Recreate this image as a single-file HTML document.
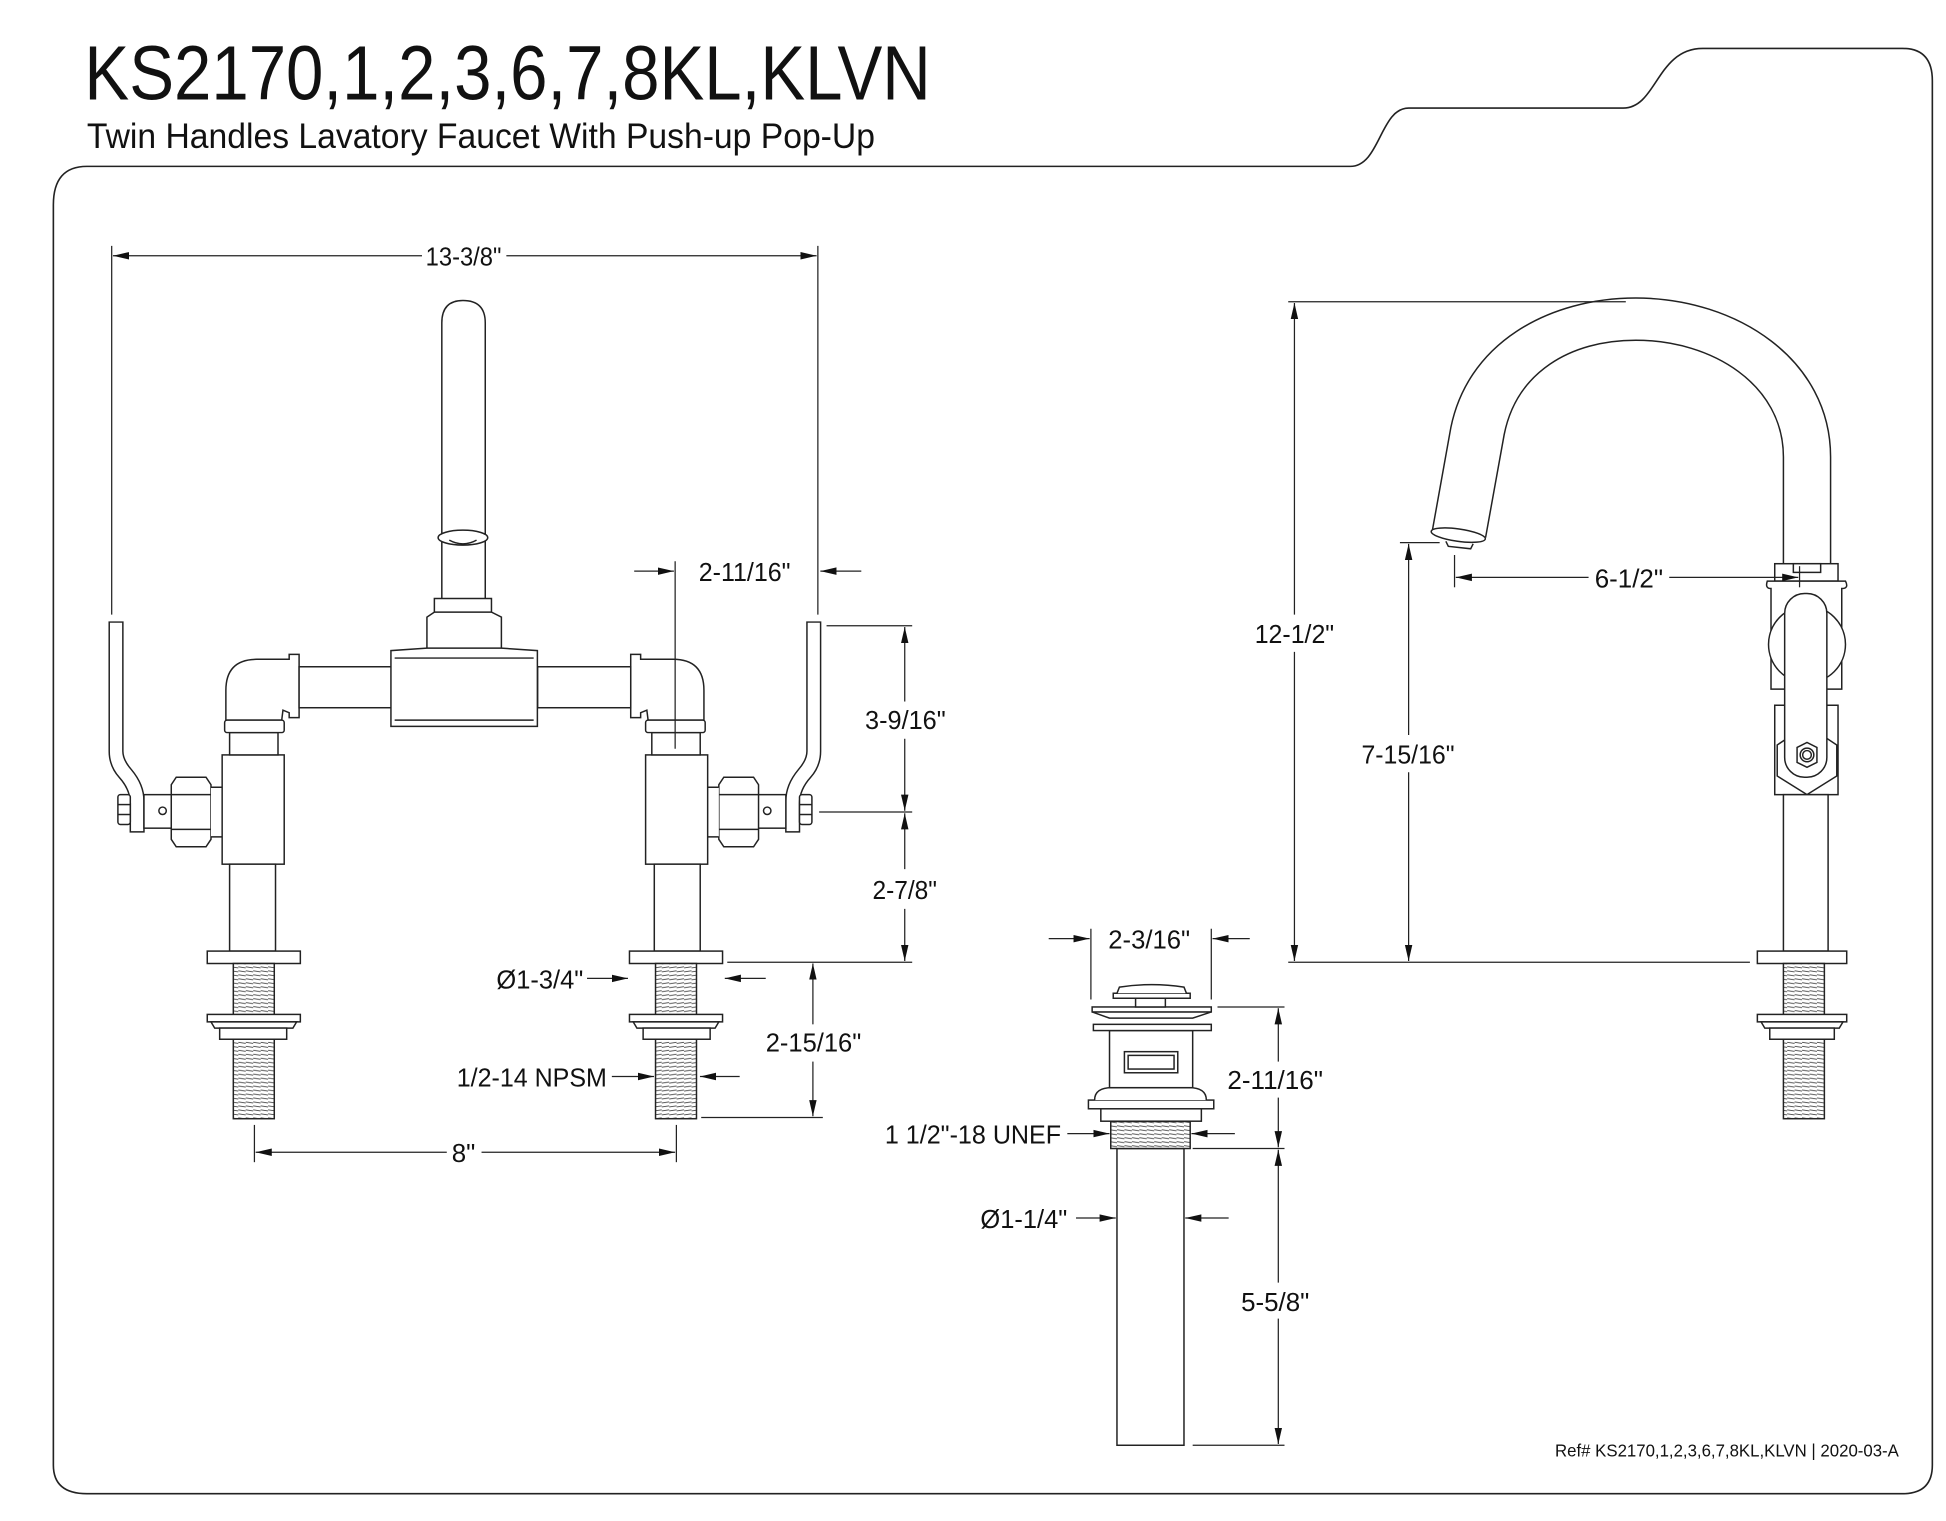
<!DOCTYPE html>
<html><head><meta charset="utf-8"><style>
html,body{margin:0;padding:0;background:#fff;width:1946px;height:1521px;overflow:hidden}
svg{display:block}
text{font-family:"Liberation Sans",sans-serif;fill:#111}
.d{font-size:21px}
</style></head><body>
<svg width="1946" height="1521" viewBox="0 0 1568 1225" preserveAspectRatio="none" xmlns="http://www.w3.org/2000/svg">
<defs>
<marker id="a" markerUnits="userSpaceOnUse" markerWidth="14" markerHeight="8" refX="13" refY="4" orient="auto"><path d="M0,1 L13,4 L0,7 Z" fill="#111"/></marker>
<pattern id="th" width="6" height="3.2" patternUnits="userSpaceOnUse"><rect width="6" height="3.2" fill="#fff"/><line x1="0" y1="1" x2="6" y2="2" stroke="#444" stroke-width="0.7"/></pattern>
</defs>
<g fill="none" stroke="#222" stroke-width="1.3">
<path d="M43,1180 L43,165 Q43,134 70,134 L1088,134 C1112,134 1112,87 1135,87 L1308,87 C1335,87 1335,39 1372,39 L1533,39 Q1557,39 1557,65 L1557,1180 Q1557,1203 1533,1203 L70,1203 Q43,1203 43,1180"/>
</g>
<text x="68" y="80" font-size="62" textLength="682" lengthAdjust="spacingAndGlyphs">KS2170,1,2,3,6,7,8KL,KLVN</text>
<text x="70" y="119" font-size="28" textLength="635" lengthAdjust="spacingAndGlyphs">Twin Handles Lavatory Faucet With Push-up Pop-Up</text>

<g id="half" fill="#fff" stroke="#222" stroke-width="1.2">
<path d="M88,501 L99,501 L99,605 Q99,612 106,620 Q116,632 116,645 L116,670 L105,670 L105,647 Q105,636 96,626 Q88,617 88,605 Z"/>
<rect x="95" y="640" width="10" height="24" rx="2"/>
<line x1="95" y1="648" x2="105" y2="648"/><line x1="95" y1="656" x2="105" y2="656"/>
<rect x="116" y="640" width="23" height="27"/>
<circle cx="131" cy="653" r="3"/>
<path d="M142,626 L166,626 L170,632 L170,676 L166,682 L142,682 L138,676 L138,632 Z"/>
<line x1="138" y1="640" x2="170" y2="640"/><line x1="138" y1="668" x2="170" y2="668"/>
<path d="M170,634 L180,634 Q195,645 195,654 Q195,663 180,674 L170,674"/>
<rect x="179" y="608" width="50" height="88"/>
<rect x="185" y="696" width="37" height="70"/>
<rect x="167" y="766" width="75" height="10"/>
<rect x="188" y="776" width="33" height="125" fill="url(#th)"/>
<rect x="167" y="817" width="75" height="6"/>
<path d="M170,823 L239,823 L236,828 L173,828 Z"/>
<rect x="177" y="828" width="54" height="9"/>
<rect x="185" y="590" width="39" height="18"/>
<path d="M182,580 L182,556 Q182,531 207,531 L233,531 L233,527 L241,527 L241,578 L233,578 L233,574 L228,572 L227,580 Z"/>
<rect x="181" y="580" width="48" height="10" rx="2"/>
<rect x="241" y="537" width="75" height="33"/>
</g>
<use href="#half" transform="translate(749.2,0) scale(-1,1)"/>

<g fill="#fff" stroke="#222" stroke-width="1.2">
<path d="M356,490 L356,260 Q356,242 373,242 Q391,242 391,260 L391,490"/>
<ellipse cx="373" cy="433" rx="20" ry="6"/>
<path d="M362,435 Q373,441 384,435"/>
<path d="M350,493 L350,482 L396,482 L396,493"/>
<path d="M344,522 L344,497 L350,493 L396,493 L404,497 L404,522"/>
<path d="M315,585 L315,524 L344,522 L404,522 L433,524 L433,585 Z"/>
<line x1="318" y1="530" x2="430" y2="530"/>
<line x1="318" y1="580" x2="430" y2="580"/>
</g>

<g stroke="#222" stroke-width="1" fill="none">
<line x1="90" y1="198" x2="90" y2="495"/><line x1="659" y1="198" x2="659" y2="495"/>
<line x1="340" y1="206" x2="91" y2="206" marker-end="url(#a)"/>
<line x1="408" y1="206" x2="658" y2="206" marker-end="url(#a)"/>
<line x1="544" y1="452" x2="544" y2="603"/>
<line x1="511" y1="460" x2="543" y2="460" marker-end="url(#a)"/>
<line x1="694" y1="460" x2="661" y2="460" marker-end="url(#a)"/>
<line x1="666" y1="504" x2="735" y2="504"/><line x1="660" y1="654" x2="735" y2="654"/><line x1="586" y1="775" x2="735" y2="775"/>
<line x1="729" y1="565" x2="729" y2="505" marker-end="url(#a)"/>
<line x1="729" y1="595" x2="729" y2="653" marker-end="url(#a)"/>
<line x1="729" y1="700" x2="729" y2="655" marker-end="url(#a)"/>
<line x1="729" y1="732" x2="729" y2="774" marker-end="url(#a)"/>
<line x1="473" y1="788" x2="506" y2="788" marker-end="url(#a)"/>
<line x1="617" y1="788" x2="584" y2="788" marker-end="url(#a)"/>
<line x1="655" y1="825" x2="655" y2="776" marker-end="url(#a)"/>
<line x1="655" y1="855" x2="655" y2="899" marker-end="url(#a)"/>
<line x1="565" y1="900" x2="663" y2="900"/>
<line x1="493" y1="867" x2="527" y2="867" marker-end="url(#a)"/>
<line x1="596" y1="867" x2="564" y2="867" marker-end="url(#a)"/>
<line x1="205" y1="906" x2="205" y2="936"/><line x1="545" y1="906" x2="545" y2="936"/>
<line x1="360" y1="928" x2="206" y2="928" marker-end="url(#a)"/>
<line x1="388" y1="928" x2="544" y2="928" marker-end="url(#a)"/>
</g>
<g class="d">
<text x="343" y="214" textLength="61" lengthAdjust="spacingAndGlyphs">13-3/8"</text>
<text x="563" y="468" textLength="74" lengthAdjust="spacingAndGlyphs">2-11/16"</text>
<text x="697" y="587" textLength="65" lengthAdjust="spacingAndGlyphs">3-9/16"</text>
<text x="703" y="724" textLength="52" lengthAdjust="spacingAndGlyphs">2-7/8"</text>
<text x="400" y="796" textLength="70" lengthAdjust="spacingAndGlyphs">Ø1-3/4"</text>
<text x="617" y="847" textLength="77" lengthAdjust="spacingAndGlyphs">2-15/16"</text>
<text x="368" y="875" textLength="121" lengthAdjust="spacingAndGlyphs">1/2-14 NPSM</text>
<text x="364" y="936" textLength="19" lengthAdjust="spacingAndGlyphs">8"</text>
</g>

<g fill="#fff" stroke="#222" stroke-width="1.2">
<path d="M1154,428 L1168,350 C1180,275 1250,240 1318,240 C1400,240 1475,290 1475,368 L1475,456 L1437,456 L1437,368 C1437,310 1380,274 1318,274 C1265,274 1222,300 1212,350 L1197,433"/>
<ellipse cx="1175" cy="431" rx="22" ry="5" transform="rotate(8 1175 431)"/>
<path d="M1165,436 L1167,440 L1185,442 L1187,438"/>
<rect x="1430" y="454" width="51" height="14"/>
<rect x="1445" y="454" width="22" height="7"/>
<path d="M1427,474 Q1422,474 1424,468 L1487,468 Q1490,474 1484,474 L1484,555 L1427,555 Z"/>
<rect x="1430" y="568" width="51" height="72"/>
<circle cx="1456" cy="519" r="31"/>
<path d="M1432,600 L1456,584 L1480,600 L1480,625 L1456,640 L1432,625 Z"/>
<rect x="1438" y="478" width="34" height="148" rx="16"/>
<path d="M1448,602 L1456,598 L1464,602 L1464,614 L1456,618 L1448,614 Z"/>
<circle cx="1456" cy="608" r="5.5"/><circle cx="1456" cy="608" r="3.5"/>
<rect x="1437" y="640" width="36" height="126"/>
<rect x="1416" y="766" width="72" height="10"/>
<rect x="1437" y="776" width="33" height="125" fill="url(#th)"/>
<rect x="1416" y="817" width="72" height="6"/>
<path d="M1419,823 L1485,823 L1482,828 L1422,828 Z"/>
<rect x="1426" y="828" width="52" height="9"/>
</g>
<g stroke="#222" stroke-width="1" fill="none">
<line x1="1038" y1="243" x2="1310" y2="243"/>
<line x1="1038" y1="775" x2="1410" y2="775"/>
<line x1="1043" y1="495" x2="1043" y2="244" marker-end="url(#a)"/>
<line x1="1043" y1="525" x2="1043" y2="774" marker-end="url(#a)"/>
<line x1="1128" y1="437" x2="1160" y2="437"/>
<line x1="1135" y1="592" x2="1135" y2="438" marker-end="url(#a)"/>
<line x1="1135" y1="622" x2="1135" y2="774" marker-end="url(#a)"/>
<line x1="1172" y1="447" x2="1172" y2="473"/><line x1="1450" y1="456" x2="1450" y2="473"/>
<line x1="1280" y1="465" x2="1173" y2="465" marker-end="url(#a)"/>
<line x1="1345" y1="465" x2="1449" y2="465" marker-end="url(#a)"/>
</g>
<g class="d">
<text x="1011" y="518" textLength="64" lengthAdjust="spacingAndGlyphs">12-1/2"</text>
<text x="1097" y="615" textLength="75" lengthAdjust="spacingAndGlyphs">7-15/16"</text>
<text x="1285" y="473" textLength="55" lengthAdjust="spacingAndGlyphs">6-1/2"</text>
</g>

<g fill="#fff" stroke="#222" stroke-width="1.2">
<rect x="900" y="925" width="54" height="239"/>
<rect x="895" y="903" width="64" height="22" fill="url(#th)"/>
<rect x="887" y="893" width="81" height="10"/>
<rect x="877" y="886" width="101" height="7"/>
<path d="M882,886 Q882,876 896,876 L958,876 Q972,876 972,886"/>
<rect x="894" y="830" width="67" height="46"/>
<rect x="906" y="847" width="43" height="17"/><rect x="909" y="850" width="37" height="11"/>
<rect x="881" y="825" width="95" height="5"/>
<path d="M894,820 L880,815 L976,815 L961,820 Z"/>
<rect x="880" y="811" width="96" height="4"/>
<rect x="915" y="804" width="24" height="7"/>
<path d="M897,804 L897,800 L959,800 L959,804 Z"/>
<path d="M900,800 L902,795 Q928,791 954,795 L956,800"/>
</g>
<g stroke="#222" stroke-width="1" fill="none">
<line x1="879" y1="748" x2="879" y2="805"/><line x1="976" y1="748" x2="976" y2="805"/>
<line x1="845" y1="756" x2="878" y2="756" marker-end="url(#a)"/>
<line x1="1007" y1="756" x2="977" y2="756" marker-end="url(#a)"/>
<line x1="981" y1="811" x2="1035" y2="811"/>
<line x1="961" y1="925" x2="1035" y2="925"/>
<line x1="961" y1="1164" x2="1035" y2="1164"/>
<line x1="1030" y1="855" x2="1030" y2="812" marker-end="url(#a)"/>
<line x1="1030" y1="884" x2="1030" y2="924" marker-end="url(#a)"/>
<line x1="1030" y1="1033" x2="1030" y2="926" marker-end="url(#a)"/>
<line x1="1030" y1="1062" x2="1030" y2="1163" marker-end="url(#a)"/>
<line x1="860" y1="913" x2="894" y2="913" marker-end="url(#a)"/>
<line x1="995" y1="913" x2="960" y2="913" marker-end="url(#a)"/>
<line x1="867" y1="981" x2="899" y2="981" marker-end="url(#a)"/>
<line x1="990" y1="981" x2="955" y2="981" marker-end="url(#a)"/>
</g>
<g class="d">
<text x="893" y="764" textLength="66" lengthAdjust="spacingAndGlyphs">2-3/16"</text>
<text x="989" y="877" textLength="77" lengthAdjust="spacingAndGlyphs">2-11/16"</text>
<text x="1000" y="1056" textLength="55" lengthAdjust="spacingAndGlyphs">5-5/8"</text>
<text x="713" y="921" textLength="142" lengthAdjust="spacingAndGlyphs">1 1/2"-18 UNEF</text>
<text x="790" y="989" textLength="70" lengthAdjust="spacingAndGlyphs">Ø1-1/4"</text>
</g>
<text x="1253" y="1173" font-size="14" textLength="277" lengthAdjust="spacingAndGlyphs">Ref# KS2170,1,2,3,6,7,8KL,KLVN | 2020-03-A</text>
</svg>
</body></html>
